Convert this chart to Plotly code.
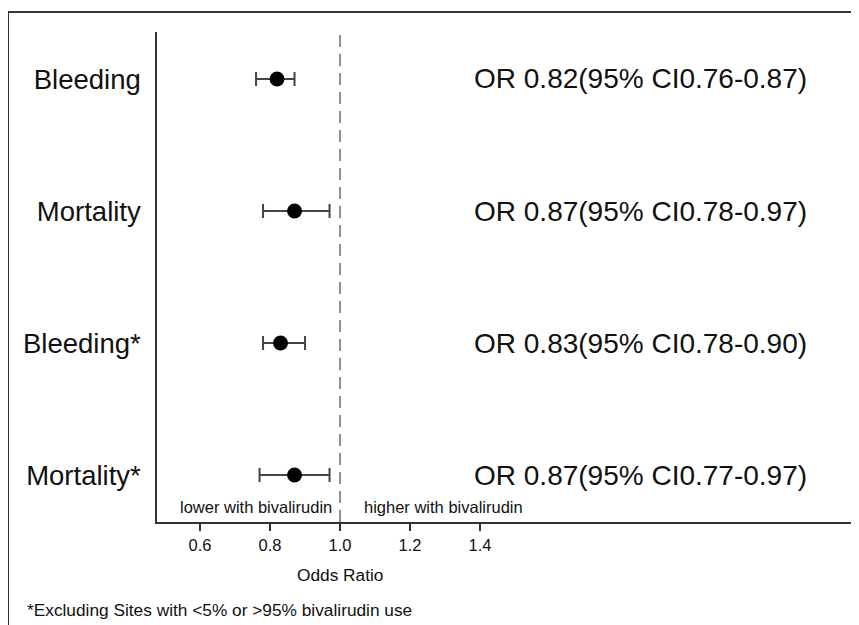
import plotly.graph_objects as go

categories = ["Bleeding", "Mortality", "Bleeding*", "Mortality*"]
odds_ratio = [0.82, 0.87, 0.83, 0.87]
ci_low = [0.76, 0.78, 0.78, 0.77]
ci_high = [0.87, 0.97, 0.90, 0.97]
row_pos = [4, 3, 2, 1]
x_ticks = [0.6, 0.8, 1.0, 1.2, 1.4]
x_tick_labels = ["0.6", "0.8", "1.0", "1.2", "1.4"]
or_labels = ["OR %.2f(95%% CI%.2f-%.2f)" % (o, l, h) for o, l, h in zip(odds_ratio, ci_low, ci_high)]

FONT = "Liberation Sans"
TXT = "#111111"

fig = go.Figure()
fig.add_trace(go.Scatter(
    x=odds_ratio, y=row_pos, mode="markers",
    marker=dict(size=15, color="black"),
    error_x=dict(type="data", symmetric=False,
                 array=[h - o for h, o in zip(ci_high, odds_ratio)],
                 arrayminus=[o - l for o, l in zip(odds_ratio, ci_low)],
                 color="#444444", thickness=2, width=7),
    showlegend=False, hoverinfo="skip",
))

for y, t in zip(row_pos, or_labels):
    fig.add_annotation(x=1.377, y=y, xref="x", yref="y", text=t, showarrow=False,
                       xanchor="left", yanchor="middle",
                       font=dict(family=FONT, size=28, color=TXT))

fig.add_annotation(x=0.76, y=0.031, xref="x", yref="paper", text="lower with bivalirudin",
                   showarrow=False, xanchor="center", yanchor="middle",
                   font=dict(family=FONT, size=16.5, color=TXT))
fig.add_annotation(x=1.296, y=0.031, xref="x", yref="paper", text="higher with bivalirudin",
                   showarrow=False, xanchor="center", yanchor="middle",
                   font=dict(family=FONT, size=16.5, color=TXT))
fig.add_annotation(x=1.0, y=-0.108, xref="x", yref="paper", text="Odds Ratio",
                   showarrow=False, xanchor="center", yanchor="middle",
                   font=dict(family=FONT, size=17.3, color=TXT))
fig.add_annotation(x=-0.19, y=-0.1796, xref="paper", yref="paper",
                   text="*Excluding Sites with <5% or >95% bivalirudin use",
                   showarrow=False, xanchor="left", yanchor="middle",
                   font=dict(family=FONT, size=17.3, color=TXT))

# reference line at OR = 1
fig.add_shape(type="line", x0=1, x1=1, y0=0, y1=1, xref="x", yref="paper",
              line=dict(color="#555555", width=1.3, dash="12px,7px"))
# outer frame (top and left)
fig.add_shape(type="line", x0=-0.2147, x1=1.05, y0=1.0408, y1=1.0408, xref="paper", yref="paper",
              line=dict(color="#333333", width=2))
fig.add_shape(type="line", x0=-0.2147, x1=-0.2147, y0=1.0408, y1=-0.25, xref="paper", yref="paper",
              line=dict(color="#333333", width=2))

fig.update_layout(
    width=859, height=625,
    margin=dict(l=149, r=16, t=24, b=111),
    paper_bgcolor="white", plot_bgcolor="white",
    font=dict(family=FONT, color=TXT),
    xaxis=dict(range=[0.477, 2.46], tickvals=x_ticks, ticktext=x_tick_labels,
               showgrid=False, zeroline=False, showline=True, linecolor="#333333", linewidth=1.5,
               ticks="outside", ticklen=7, tickwidth=1.5, tickcolor="#333333",
               tickfont=dict(family=FONT, size=16.5, color=TXT)),
    yaxis=dict(range=[0.644, 4.356], tickvals=row_pos, ticktext=categories,
               showgrid=False, zeroline=False, showline=True, linecolor="#333333", linewidth=1.5,
               ticks="", ticklabelstandoff=9,
               tickfont=dict(family=FONT, size=27.5, color=TXT)),
)

fig.write_html("out.html")
